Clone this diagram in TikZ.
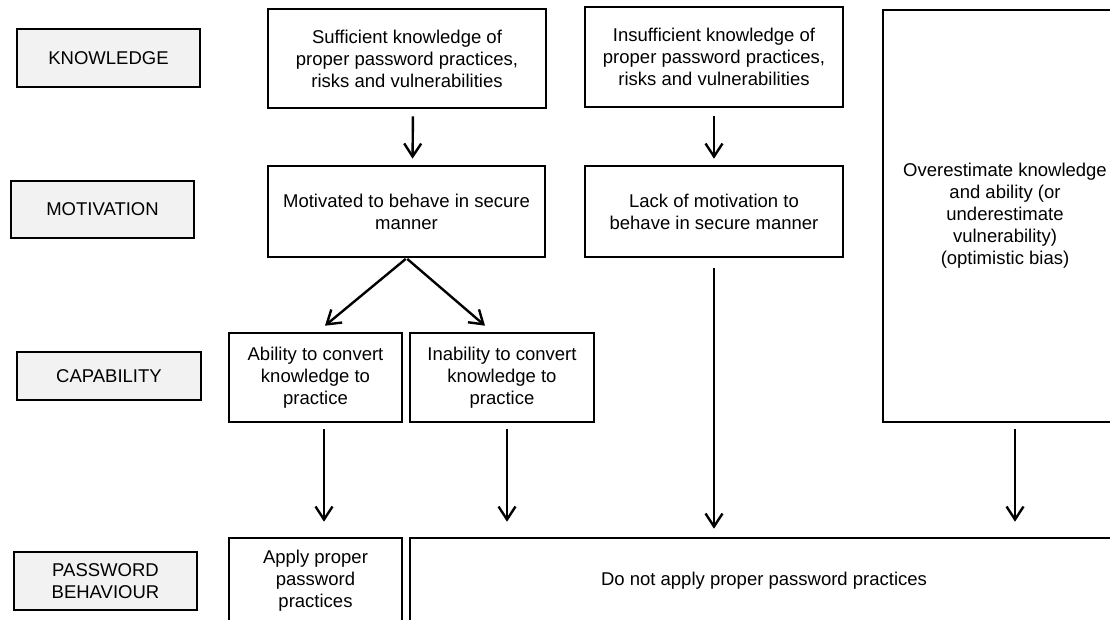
\documentclass[tikz,border=0pt]{standalone}
\usepackage{fontspec}
\setmainfont{Liberation Sans}
\usetikzlibrary{arrows.meta}
\definecolor{labgray}{RGB}{242,242,242}
\begin{document}
\begin{tikzpicture}[x=1pt,y=-1pt,
  box/.style={draw=black, line width=2.6pt, inner sep=0pt, align=center,
    font=\fontsize{18.5}{22}\selectfont},
  lab/.style={box, fill=labgray},
  arr/.style={line width=2.4pt, -{Straight Barb[length=13pt,width=17pt,line width=2.4pt]}},
]
\useasboundingbox (0,0) rectangle (1110,619);
\clip (0,0) rectangle (1110,619);
\fill[white] (0,0) rectangle (1110,619);

% row labels
\node[lab, minimum width=183, minimum height=58] (know) at (108.5,58) {KNOWLEDGE};
\node[lab, minimum width=183, minimum height=57] (motl) at (102.5,209.5) {MOTIVATION};
\node[lab, minimum width=184, minimum height=48] (capl) at (109,376) {CAPABILITY};
\node[lab, minimum width=183, minimum height=58] (pbl) at (105.5,581) {PASSWORD\\BEHAVIOUR};

% content boxes
\node[box, minimum width=278, minimum height=99] (suff) at (407,58.5)
  {Sufficient knowledge of\\proper password practices,\\risks and vulnerabilities};
\node[box, minimum width=258, minimum height=100] (insuf) at (714,57)
  {Insufficient knowledge of\\proper password practices,\\risks and vulnerabilities};
\node[box, minimum width=277, minimum height=91] (motiv) at (406.5,211.5)
  {Motivated to behave in secure\\manner};
\node[box, minimum width=258, minimum height=91] (lack) at (714,211.5)
  {Lack of motivation to\\behave in secure manner};
\node[box, minimum width=173, minimum height=89] (abil) at (315.5,377.5)
  {Ability to convert\\knowledge to\\practice};
\node[box, minimum width=184, minimum height=89] (inab) at (502,377.5)
  {Inability to convert\\knowledge to\\practice};
\node[box, minimum width=244, minimum height=412] (over) at (1005,216)
  {Overestimate knowledge\\and ability (or\\underestimate\\vulnerability)\\(optimistic bias)};
\node[box, minimum width=173, minimum height=86] (apply) at (315.5,581)
  {Apply proper\\password\\practices};
\node[box, minimum width=708, minimum height=86] (donot) at (764,581)
  {Do not apply proper password practices};

% connectors
\draw[arr, shorten <=7pt, shorten >=6pt] ([xshift=6pt]suff.south) -- ([xshift=6pt]motiv.north);
\draw[arr, shorten <=8pt, shorten >=6pt] (insuf.south) -- (lack.north);
\draw[arr, shorten <=1pt] (motiv.south) -- ([xshift=9.5pt,yshift=6pt]abil.north);
\draw[arr, shorten <=1pt] (motiv.south) -- ([xshift=-17pt,yshift=6pt]inab.north);
\draw[arr, shorten <=6pt, shorten >=15pt] ([xshift=8.5pt]abil.south) -- ([xshift=8.5pt]abil.south |- apply.north);
\draw[arr, shorten <=6pt, shorten >=15pt] ([xshift=5pt]inab.south) -- ([xshift=5pt]inab.south |- donot.north);
\draw[arr, shorten <=10pt, shorten >=8pt] (lack.south) -- (lack.south |- donot.north);
\draw[arr, shorten <=6pt, shorten >=15pt] ([xshift=10pt]over.south) -- ([xshift=10pt]over.south |- donot.north);
\end{tikzpicture}
\end{document}
